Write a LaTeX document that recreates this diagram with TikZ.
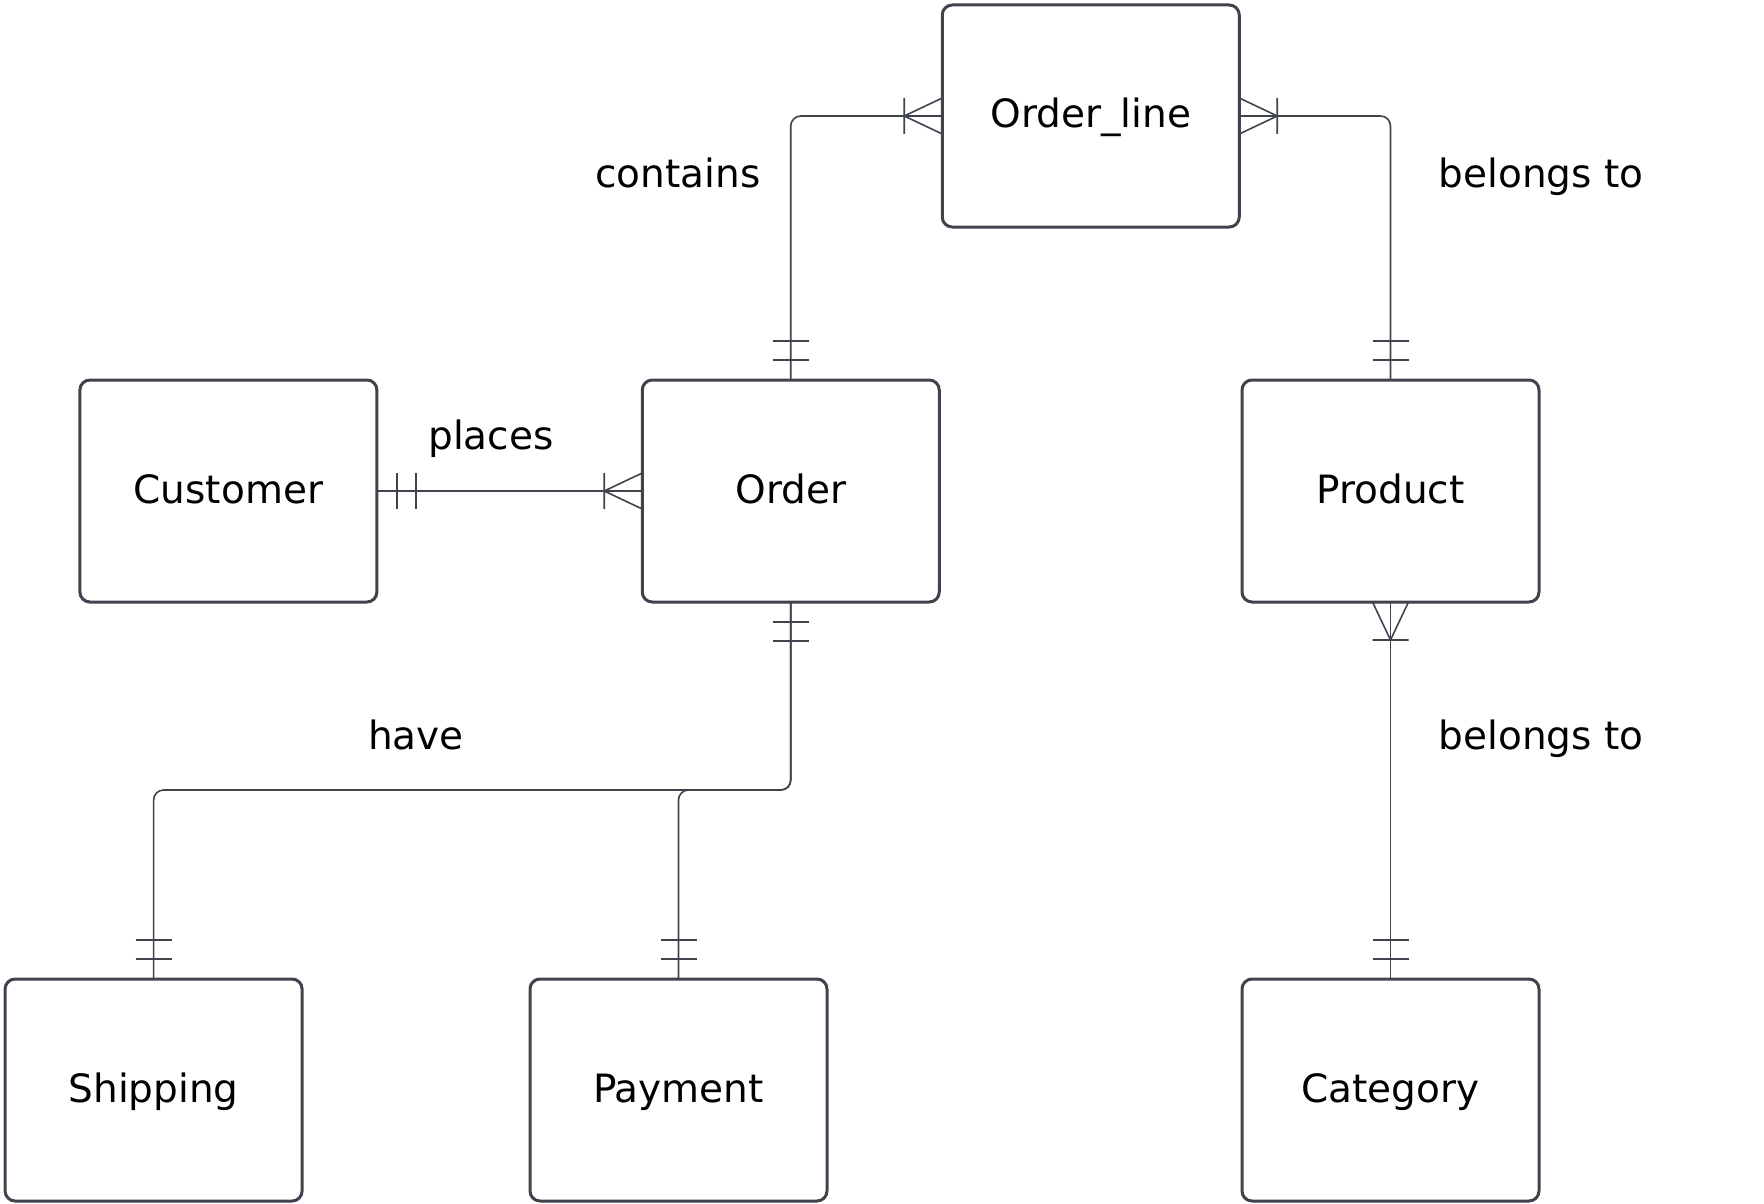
\documentclass[tikz,border=0pt]{standalone}
\usepackage{fontspec}
\setmainfont{DejaVu Sans}
\usepackage{tikz}
\usetikzlibrary{calc}
\definecolor{erline}{RGB}{62,67,77}

\begin{document}
\begin{tikzpicture}[
    x = 1pt, y = -1pt,
    entity/.style = {draw=erline, line width=3pt, rounded corners=10pt,
        minimum width=297pt, minimum height=222pt, outer sep=0pt,
        text height=24pt, text depth=0pt, font=\fontsize{39}{47}\selectfont},
    rel/.style = {draw=erline, line width=1.6pt},
    role/.style = {anchor=base, font=\fontsize{39}{47}\selectfont},
    onlyone/.pic = {\draw[rel] (20,-18) -- (20,18) (39,-18) -- (39,18);},
    oneormore/.pic = {\draw[rel] (0,-18) -- (38,0) -- (0,18) (38,-18) -- (38,18);}
  ]
  \useasboundingbox (0,0) rectangle (1764,1204);

  \foreach \name/\x/\y/\txt in {OrderLine/1090.75/116/Order\_line,
      Customer/228.4/491/Customer, Order/790.75/491/Order, Product/1390.5/491/Product,
      Shipping/153.6/1090/Shipping, Payment/678.5/1090/Payment, Category/1390.5/1090/Category}
  \node[entity] (\name) at (\x,\y) {\txt};

  % relationships
  \draw[rel, rounded corners=10pt] (Order.north) |- (OrderLine.west);
  \draw[rel, rounded corners=10pt] (OrderLine.east) -| (Product.north);
  \draw[rel] (Customer.east) -- (Order.west);
  \coordinate (split) at ($(Order.south)+(0,188)$);
  \draw[rel, rounded corners=10pt] (Order.south) -- (split) -| (Shipping.north);
  \draw[rel, rounded corners=10pt] (Order.south) -- (split) -| (Payment.north);
  \draw[rel] (Product.south) -- (Category.north);

  % cardinalities
  \pic[rotate=90] at (Order.north) {onlyone};
  \pic[rotate=180] at (OrderLine.west) {oneormore};
  \pic at (OrderLine.east) {oneormore};
  \pic[rotate=90] at (Product.north) {onlyone};
  \pic at (Customer.east) {onlyone};
  \pic[rotate=180] at (Order.west) {oneormore};
  \pic[rotate=-90] at (Order.south) {onlyone};
  \pic[rotate=90] at (Shipping.north) {onlyone};
  \pic[rotate=90] at (Payment.north) {onlyone};
  \pic[rotate=-90] at (Product.south) {oneormore};
  \pic[rotate=90] at (Category.north) {onlyone};

  \node[role] (contains) at (678,187) {contains};
  \node[role] (belongs1) at (1541,187) {belongs to};
  \node[role] (places) at (491,449) {places};
  \node[role] (have) at (416,749) {have};
  \node[role] (belongs2) at (1541,749) {belongs to};
\end{tikzpicture}
\end{document}
